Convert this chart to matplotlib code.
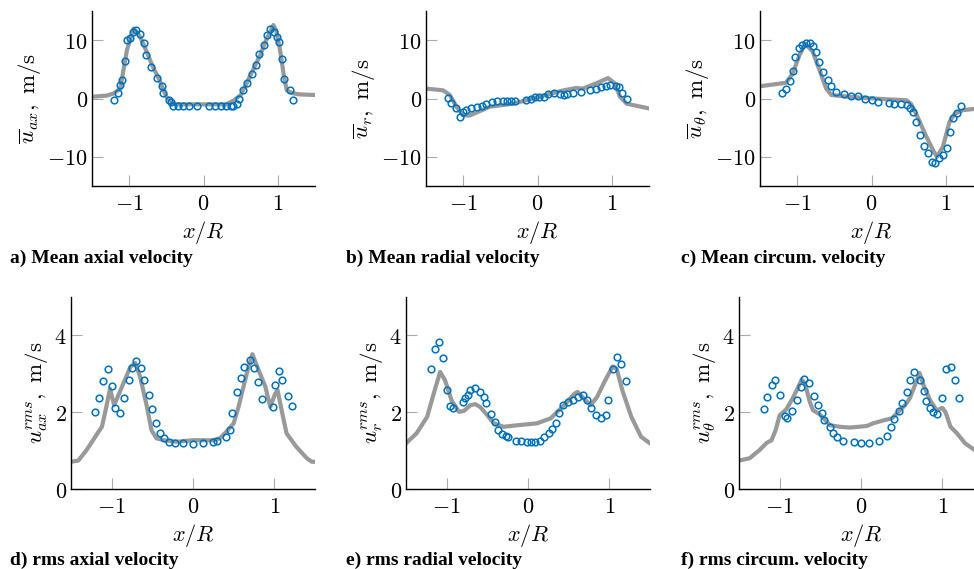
import matplotlib
matplotlib.use("Agg")
import matplotlib.pyplot as plt
from matplotlib.ticker import FuncFormatter

plt.rcParams["mathtext.fontset"] = "cm"
plt.rcParams["font.family"] = ["DejaVu Serif"]

# --- simulation (lines) ---
ax_sim_x = [-1.5, -1.3, -1.21, -1.12, -1.03, -0.94, -0.88, -0.81, -0.68, -0.59, -0.5, -0.41,
            -0.3, 0.0, 0.3, 0.4, 0.5, 0.58, 0.67, 0.76, 0.85, 0.94, 0.98, 1.03, 1.08, 1.12, 1.2, 1.3, 1.5]
ax_sim_y = [0.3, 0.5, 0.86, 1.7, 8.3, 12.0, 11.2, 9.4, 5.4, 3.1, 0.3, -0.9,
            -1.0, -1.0, -1.0, -0.4, 0.6, 2.6, 5.0, 7.4, 10.2, 12.6, 11.6, 8.3, 4.0, 1.4, 0.9, 0.7, 0.6]

r_sim_x = [-1.5, -1.27, -1.18, -1.09, -1.0, -0.91, -0.64, -0.33, -0.01, 0.35, 0.52, 0.61,
           0.79, 0.95, 1.04, 1.11, 1.2, 1.5]
r_sim_y = [1.7, 1.4, 0.6, -1.4, -2.9, -2.9, -1.4, -0.9, 0.2, 1.4, 1.8, 1.7,
           2.6, 3.5, 2.6, 0.3, -0.9, -1.7]

t_sim_x = [-1.5, -1.15, -1.06, -0.97, -0.89, -0.79, -0.70, -0.61, -0.54, -0.30, 0.15, 0.47,
           0.53, 0.60, 0.74, 0.83, 0.88, 0.96, 1.05, 1.12, 1.23, 1.37, 1.5]
t_sim_y = [2.1, 2.7, 4.3, 7.4, 9.4, 8.0, 4.9, 1.7, 0.6, 0.3, -0.1, -0.3,
           -0.9, -2.6, -6.6, -8.9, -10.0, -8.3, -4.0, -2.6, -2.0, -1.8, -1.8]

axr_sim_x = [-1.5, -1.41, -1.31, -1.18, -1.12, -1.07, -1.02, -0.97, -0.91, -0.84, -0.77, -0.71,
             -0.65, -0.57, -0.51, -0.45, -0.36, -0.20, 0.0, 0.25, 0.33, 0.41, 0.50, 0.56, 0.66,
             0.73, 0.80, 0.89, 0.95, 1.01, 1.04, 1.09, 1.15, 1.27, 1.40, 1.46, 1.5]
axr_sim_y = [0.71, 0.74, 1.01, 1.43, 1.62, 2.1, 2.61, 2.18, 2.48, 2.83, 3.18, 3.28,
             2.92, 2.18, 1.53, 1.32, 1.27, 1.23, 1.27, 1.27, 1.32, 1.49, 1.71, 2.14, 3.0,
             3.51, 3.13, 2.66, 2.14, 2.48, 2.57, 2.05, 1.45, 1.1, 0.80, 0.71, 0.71]

rr_sim_x = [-1.5, -1.37, -1.24, -1.16, -1.08, -1.02, -0.94, -0.85, -0.79, -0.71, -0.65, -0.59,
            -0.50, -0.42, -0.30, -0.13, 0.11, 0.28, 0.44, 0.57, 0.61, 0.69, 0.77, 0.85, 0.94,
            1.04, 1.09, 1.16, 1.27, 1.39, 1.5]
rr_sim_y = [1.19, 1.45, 1.88, 2.48, 3.05, 2.83, 2.31, 2.01, 2.03, 2.18, 2.21, 2.14,
            1.92, 1.71, 1.62, 1.66, 1.71, 1.84, 2.18, 2.48, 2.53, 2.35, 2.18, 2.40, 2.79,
            3.19, 3.13, 2.57, 1.88, 1.36, 1.19]

tr_sim_x = [-1.5, -1.37, -1.25, -1.16, -1.10, -1.05, -1.0, -0.92, -0.84, -0.77, -0.73, -0.69,
            -0.63, -0.59, -0.51, -0.38, -0.26, -0.14, -0.03, 0.07, 0.15, 0.28, 0.38, 0.46,
            0.54, 0.60, 0.67, 0.72, 0.77, 0.85, 0.93, 1.0, 1.04, 1.10, 1.18, 1.28, 1.40, 1.5]
tr_sim_y = [0.74, 0.80, 1.01, 1.20, 1.27, 1.53, 1.92, 2.07, 2.36, 2.66, 2.85, 2.76,
            2.27, 2.05, 1.95, 1.66, 1.62, 1.60, 1.62, 1.64, 1.71, 1.79, 1.84, 2.01,
            2.18, 2.36, 2.74, 3.02, 2.70, 2.31, 2.05, 2.11, 2.0, 1.62, 1.45, 1.19, 1.01, 0.9]

# --- measurements (circles) ---
ax_exp_x = [-1.20, -1.15, -1.12, -1.10, -1.05, -1.03, -0.99, -0.95, -0.91, -0.86, -0.80, -0.77,
            -0.71, -0.63, -0.56, -0.54, -0.47, -0.44, -0.41, -0.34, -0.27, -0.19, -0.09,
            0.08, 0.15, 0.23, 0.30, 0.37, 0.40, 0.45, 0.48, 0.53, 0.58, 0.65, 0.71, 0.75,
            0.81, 0.85, 0.90, 0.95, 0.99, 1.01, 1.05, 1.08, 1.16, 1.21]
ax_exp_y = [-0.3, 0.9, 2.3, 3.1, 6.4, 10.0, 10.3, 11.4, 11.7, 11.1, 9.5, 7.5,
            5.4, 3.5, 2.1, 1.0, -0.2, -0.6, -1.3, -1.3, -1.3, -1.3, -1.3,
            -1.3, -1.3, -1.3, -1.3, -1.3, -1.3, -1.0, 0.0, 1.4, 2.7, 4.2, 5.7, 7.6,
            9.1, 10.9, 12.0, 11.4, 10.6, 9.7, 6.7, 3.4, 1.4, -0.2]

r_exp_x = [-1.20, -1.16, -1.10, -1.04, -1.0, -0.96, -0.89, -0.82, -0.75, -0.69, -0.61, -0.54,
           -0.47, -0.41, -0.35, -0.30, -0.16, -0.09, -0.04, 0.02, 0.09, 0.14, 0.22, 0.30,
           0.35, 0.40, 0.48, 0.58, 0.70, 0.79, 0.86, 0.92, 0.97, 1.05, 1.10, 1.14, 1.20]
r_exp_y = [0.1, -0.7, -1.7, -3.1, -2.3, -1.9, -1.7, -1.5, -1.3, -1.0, -0.6, -0.5,
           -0.5, -0.5, -0.5, -0.5, -0.2, 0.0, 0.3, 0.2, 0.3, 0.7, 0.9, 0.7,
           0.6, 0.7, 1.0, 1.1, 1.4, 1.7, 2.0, 2.2, 2.3, 2.1, 1.9, 1.0, -0.1]

t_exp_x = [-1.21, -1.15, -1.09, -1.05, -1.03, -0.98, -0.93, -0.88, -0.83, -0.79, -0.75, -0.70,
           -0.65, -0.59, -0.55, -0.48, -0.37, -0.28, -0.18, -0.09, 0.01, 0.09, 0.23, 0.30,
           0.40, 0.48, 0.52, 0.56, 0.60, 0.65, 0.71, 0.76, 0.82, 0.85, 0.91, 0.96, 1.01,
           1.06, 1.09, 1.15, 1.21]
t_exp_y = [0.9, 1.7, 3.0, 4.7, 7.1, 8.6, 9.1, 9.6, 9.5, 9.0, 8.0, 6.3,
           4.6, 3.1, 2.1, 1.1, 0.7, 0.5, 0.5, -0.1, -0.2, -0.6, -0.7, -0.9,
           -1.0, -1.1, -1.6, -2.3, -4.0, -6.2, -8.1, -9.4, -10.9, -11.1, -10.2, -9.7, -8.4,
           -5.8, -3.4, -2.4, -1.3]

axr_exp_x = [-1.20, -1.16, -1.11, -1.04, -1.0, -0.96, -0.90, -0.85, -0.79, -0.75, -0.70, -0.64,
             -0.60, -0.54, -0.50, -0.45, -0.41, -0.36, -0.30, -0.22, -0.12, 0.0, 0.12, 0.24,
             0.29, 0.41, 0.45, 0.48, 0.54, 0.59, 0.63, 0.70, 0.75, 0.80, 0.85, 0.98, 1.01,
             1.06, 1.09, 1.17, 1.22]
axr_exp_y = [2.01, 2.36, 2.81, 3.13, 2.68, 2.10, 1.99, 2.37, 2.85, 3.16, 3.33, 3.15,
             2.85, 2.46, 2.08, 1.71, 1.45, 1.32, 1.23, 1.20, 1.19, 1.16, 1.19, 1.23,
             1.26, 1.36, 1.53, 1.98, 2.53, 2.89, 3.18, 3.35, 3.16, 2.79, 2.34, 2.14, 2.70,
             3.06, 2.83, 2.42, 2.16]

rr_exp_x = [-1.19, -1.14, -1.09, -1.05, -1.0, -0.96, -0.92, -0.80, -0.77, -0.74, -0.71, -0.65,
            -0.59, -0.54, -0.52, -0.45, -0.41, -0.37, -0.32, -0.27, -0.24, -0.15, -0.09,
            -0.01, 0.04, 0.08, 0.15, 0.20, 0.26, 0.29, 0.35, 0.38, 0.43, 0.49, 0.55, 0.62,
            0.68, 0.72, 0.77, 0.83, 0.90, 0.96, 0.98, 1.04, 1.09, 1.14, 1.20]
rr_exp_y = [3.13, 3.64, 3.83, 3.42, 2.59, 2.16, 2.10, 2.27, 2.36, 2.44, 2.57, 2.64,
            2.53, 2.40, 2.23, 1.95, 1.75, 1.53, 1.43, 1.39, 1.36, 1.26, 1.26,
            1.23, 1.23, 1.23, 1.26, 1.36, 1.45, 1.55, 1.73, 1.97, 2.18, 2.27, 2.33, 2.40,
            2.44, 2.31, 2.10, 1.92, 1.85, 1.92, 2.33, 3.13, 3.44, 3.25, 2.81]

tr_exp_x = [-1.19, -1.16, -1.09, -1.06, -1.0, -0.94, -0.91, -0.85, -0.79, -0.74, -0.70, -0.64,
            -0.58, -0.53, -0.48, -0.46, -0.38, -0.35, -0.29, -0.22, -0.08, 0.0, 0.10, 0.22,
            0.32, 0.37, 0.41, 0.47, 0.51, 0.56, 0.60, 0.65, 0.73, 0.77, 0.80, 0.85, 0.89,
            0.93, 1.0, 1.05, 1.11, 1.16, 1.21]
tr_exp_y = [2.08, 2.40, 2.72, 2.85, 2.44, 1.90, 1.84, 2.03, 2.33, 2.66, 2.87, 2.76,
            2.42, 2.18, 1.97, 1.79, 1.62, 1.46, 1.36, 1.26, 1.23, 1.20, 1.21, 1.26,
            1.39, 1.62, 1.81, 2.03, 2.23, 2.53, 2.85, 3.05, 2.85, 2.55, 2.29, 2.10, 2.01,
            1.95, 2.38, 3.12, 3.18, 2.85, 2.38]

panels = [
    (ax_sim_x, ax_sim_y, ax_exp_x, ax_exp_y, r"$\overline{u}_{ax},\ \mathrm{m/s}$", "a) Mean axial velocity"),
    (r_sim_x, r_sim_y, r_exp_x, r_exp_y, r"$\overline{u}_{r},\ \mathrm{m/s}$", "b) Mean radial velocity"),
    (t_sim_x, t_sim_y, t_exp_x, t_exp_y, r"$\overline{u}_{\theta},\ \mathrm{m/s}$", "c) Mean circum. velocity"),
    (axr_sim_x, axr_sim_y, axr_exp_x, axr_exp_y, r"$u_{ax}^{rms},\ \mathrm{m/s}$", "d) rms axial velocity"),
    (rr_sim_x, rr_sim_y, rr_exp_x, rr_exp_y, r"$u_{r}^{rms},\ \mathrm{m/s}$", "e) rms radial velocity"),
    (tr_sim_x, tr_sim_y, tr_exp_x, tr_exp_y, r"$u_{\theta}^{rms},\ \mathrm{m/s}$", "f) rms circum. velocity"),
]

W, H = 974, 569
fig = plt.figure(figsize=(W / 100, H / 100), dpi=100)

# axes boxes in pixels: left, top, width, height
boxes = [(92, 11, 223, 175), (426, 11, 223, 175), (760, 11, 223, 175),
         (71, 297, 244, 192), (406, 297, 244, 192), (739, 297, 244, 192)]
caption_pos = [(10, 258), (346, 258), (681, 258), (10, 560), (346, 560), (681, 560)]

fmt = FuncFormatter(lambda v, p: r"$%d$" % round(v))

for i, (sx, sy, ex, ey, ylab, cap) in enumerate(panels):
    l, t, w, h = boxes[i]
    ax = fig.add_axes([l / W, 1 - (t + h) / H, w / W, h / H])
    ax.plot(sx, sy, color="#999999", lw=3.0, solid_joinstyle="round", zorder=2)
    ax.plot(ex, ey, "o", ms=4.8, mfc="none", mec="#0072BD", mew=1.1, zorder=3)
    ax.set_xlim(-1.5, 1.5)
    ax.set_xticks([-1, 0, 1])
    if i < 3:
        ax.set_ylim(-15, 15)
        ax.set_yticks([-10, 0, 10])
    else:
        ax.set_ylim(0, 5)
        ax.set_yticks([0, 2, 4])
    ax.xaxis.set_major_formatter(fmt)
    ax.yaxis.set_major_formatter(fmt)
    for s in ["top", "right"]:
        ax.spines[s].set_visible(False)
    for s in ["left", "bottom"]:
        ax.spines[s].set_linewidth(1.0)
    ax.tick_params(direction="in", length=8, width=0.8, color="#aaaaaa", labelsize=16)
    ax.tick_params(axis="x", pad=5)
    ax.tick_params(axis="y", pad=3)
    ax.set_xlabel(r"$x/R$", fontsize=16, labelpad=3)
    ax.set_ylabel(ylab, fontsize=16.5, labelpad=3)
    cx, cy = caption_pos[i]
    fig.text(cx / W, 1 - cy / H, cap, family="Liberation Serif", weight="bold",
             fontsize=14, va="center", ha="left")

fig.savefig("out.png", dpi=100)
